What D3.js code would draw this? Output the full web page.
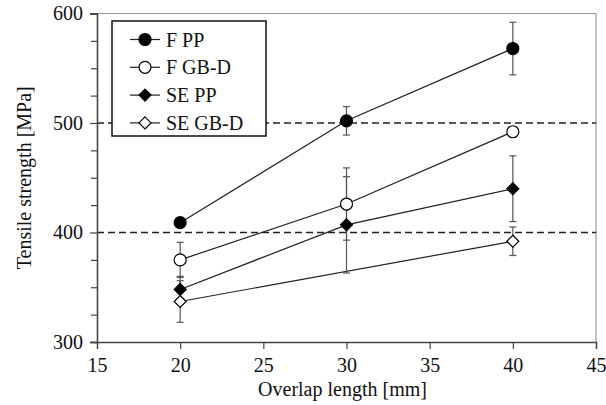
<!DOCTYPE html>
<html>
<head>
<meta charset="utf-8">
<script src="https://cdn.jsdelivr.net/npm/d3@7"></script>
<style>
  body { margin: 0; background: #fff; }
</style>
</head>
<body>
<div id="chart"></div>
<script>
// data
var xTicks = [15, 20, 25, 30, 35, 40, 45];
var yTicks = [300, 400, 500, 600];
var yMinor = [325, 350, 375, 425, 450, 475, 525, 550, 575];
var refLines = [400, 500];

var fppX = [20, 30, 40];
var fppY = [409, 502, 568];
var fppErr = [0, 13, 24];

var fgbX = [20, 30, 40];
var fgbY = [375, 426, 492];
var fgbErr = [16, 33, 0];

var seppX = [20, 30, 40];
var seppY = [348, 407, 440];
var seppErr = [12, 44, 30];

var segbX = [20, 40];
var segbY = [337, 392];
var segbErr = [19, 13];

var seriesNames = ["F PP", "F GB-D", "SE PP", "SE GB-D"];

var series = [
  { name: seriesNames[0], xs: fppX, ys: fppY, err: fppErr, shape: "circle", fill: "#000" },
  { name: seriesNames[1], xs: fgbX, ys: fgbY, err: fgbErr, shape: "circle", fill: "#fff" },
  { name: seriesNames[2], xs: seppX, ys: seppY, err: seppErr, shape: "diamond", fill: "#000" },
  { name: seriesNames[3], xs: segbX, ys: segbY, err: segbErr, shape: "diamond", fill: "#fff" }
];

var FONT = "'Liberation Serif', 'DejaVu Serif', serif";

var W = 606, H = 405;
var margin = { top: 13.5, right: 10, bottom: 63, left: 97 };
var width = W - margin.left - margin.right,
  height = H - margin.top - margin.bottom;

var svg = d3.select("#chart").append("svg")
  .attr("width", W)
  .attr("height", H)
  .append("g")
  .attr("transform", "translate(" + margin.left + "," + margin.top + ")");

var x = d3.scaleLinear().domain([15, 45]).range([0, width]);
var y = d3.scaleLinear().domain([300, 600]).range([height, 0]);

// frame top / right
svg.append("line").attr("x1", 0).attr("x2", width).attr("y1", 0).attr("y2", 0)
  .attr("stroke", "#999").attr("stroke-width", 1.2);
svg.append("line").attr("x1", width).attr("x2", width).attr("y1", 0).attr("y2", height)
  .attr("stroke", "#999").attr("stroke-width", 1.2);

// dashed reference lines
svg.selectAll(".ref").data(refLines).enter().append("line")
  .attr("x1", 0).attr("x2", width)
  .attr("y1", function (d) { return y(d); })
  .attr("y2", function (d) { return y(d); })
  .attr("stroke", "#222").attr("stroke-width", 1.4)
  .attr("stroke-dasharray", "7,4");

// axes
svg.append("g")
  .call(d3.axisLeft(y).tickValues(yTicks).tickSize(7).tickPadding(7));
svg.append("g")
  .call(d3.axisLeft(y).tickValues(yMinor).tickSize(6).tickFormat(""));
svg.append("g")
  .attr("transform", "translate(0," + height + ")")
  .call(d3.axisBottom(x).tickValues(xTicks).tickSize(7).tickPadding(9));

svg.selectAll(".domain").attr("stroke", "#444").attr("stroke-width", 1.3);
svg.selectAll(".tick line").attr("stroke", "#444").attr("stroke-width", 1.2);
svg.selectAll(".tick text").attr("fill", "#111")
  .style("font-family", FONT).style("font-size", "20px");

// axis titles
svg.append("text")
  .attr("transform", "translate(" + (-73) + "," + (height / 2) + ") rotate(-90)")
  .attr("text-anchor", "middle")
  .attr("dy", "0.35em")
  .attr("fill", "#111")
  .style("font-family", FONT)
  .style("font-size", "20px")
  .text("Tensile strength [MPa]");

svg.append("text")
  .attr("x", width / 2 - 4)
  .attr("y", height + 54)
  .attr("text-anchor", "middle")
  .attr("fill", "#111")
  .style("font-family", FONT)
  .style("font-size", "20px")
  .text("Overlap length [mm]");

var line = d3.line()
  .x(function (d) { return x(d[0]); })
  .y(function (d) { return y(d[1]); });

function drawMarker(g, shape, fill, cx, cy) {
  if (shape === "circle") {
    g.append("circle").attr("cx", cx).attr("cy", cy).attr("r", 6)
      .attr("fill", fill).attr("stroke", "#000").attr("stroke-width", 1.2);
  } else {
    var s = 6;
    g.append("path")
      .attr("d", "M" + cx + "," + (cy - s) + "L" + (cx + s) + "," + cy + "L" + cx + "," + (cy + s) + "L" + (cx - s) + "," + cy + "Z")
      .attr("fill", fill).attr("stroke", "#000").attr("stroke-width", 1.2);
  }
}

// lines first
series.forEach(function (s) {
  var pts = s.xs.map(function (v, i) { return [v, s.ys[i]]; });
  svg.append("path").datum(pts)
    .attr("d", line)
    .attr("fill", "none")
    .attr("stroke", "#222")
    .attr("stroke-width", 1.2);
});

// error bars
series.forEach(function (s) {
  s.xs.forEach(function (v, i) {
    if (!s.err[i]) return;
    var cx = x(v), top = y(s.ys[i] + s.err[i]), bot = y(s.ys[i] - s.err[i]);
    var g = svg.append("g").attr("stroke", "#555").attr("stroke-width", 1.2);
    g.append("line").attr("x1", cx).attr("x2", cx).attr("y1", top).attr("y2", bot);
    g.append("line").attr("x1", cx - 3.5).attr("x2", cx + 3.5).attr("y1", top).attr("y2", top);
    g.append("line").attr("x1", cx - 3.5).attr("x2", cx + 3.5).attr("y1", bot).attr("y2", bot);
  });
});

// markers
series.forEach(function (s) {
  s.xs.forEach(function (v, i) {
    drawMarker(svg, s.shape, s.fill, x(v), y(s.ys[i]));
  });
});

// legend
var lg = svg.append("g").attr("transform", "translate(" + 15 + "," + 7.5 + ")");
lg.append("rect").attr("width", 154).attr("height", 115)
  .attr("fill", "#fff").attr("stroke", "#111").attr("stroke-width", 1.5);
series.forEach(function (s, i) {
  var ry = 18.5 + i * 27.8;
  lg.append("line").attr("x1", 18).attr("x2", 48).attr("y1", ry).attr("y2", ry)
    .attr("stroke", "#222").attr("stroke-width", 1.2);
  drawMarker(lg, s.shape, s.fill, 33, ry);
  lg.append("text").attr("x", 54).attr("y", ry).attr("dy", "0.35em")
    .attr("fill", "#111")
    .style("font-family", FONT)
    .style("font-size", "20px")
    .text(s.name);
});
</script>
</body>
</html>
